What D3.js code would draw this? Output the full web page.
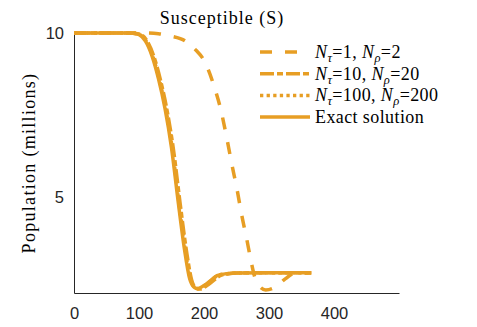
<!DOCTYPE html>
<html>
<head>
<meta charset="utf-8">
<script src="https://cdn.jsdelivr.net/npm/d3@7"></script>
<style>
  body { margin: 0; background: #fff; }
  .serif { font-family: "Liberation Serif", serif; fill: #000; }
  .tick text { font-family: "Liberation Sans", Arial, sans-serif; fill: #262626; }
</style>
</head>
<body>
<div id="chart"></div>
<script>
    'use strict'

    // data (days, susceptible population in millions)
    const exactDays = [0, 80, 90, 100, 110, 120, 130, 140, 150, 160, 170, 178, 185, 190, 200, 210, 220, 235, 250, 300, 365];
    const exactS    = [10, 10, 9.99, 9.95, 9.75, 9.3, 8.6, 7.7, 6.5, 4.9, 3.4, 2.5, 2.24, 2.2, 2.3, 2.45, 2.6, 2.66, 2.68, 2.69, 2.69];

    const n100Days = [0, 81, 91, 101, 111, 121, 131, 141, 151, 161, 171, 179, 186, 191, 201, 211, 221, 236, 251, 300, 365];
    const n100S    = [10, 10, 9.99, 9.95, 9.75, 9.3, 8.6, 7.7, 6.5, 4.9, 3.4, 2.5, 2.24, 2.2, 2.3, 2.45, 2.6, 2.66, 2.68, 2.69, 2.69];

    const n10Days = [0, 83, 93, 103, 113, 123, 133, 143, 153, 163, 173, 181, 188, 194, 204, 214, 224, 238, 252, 300, 365];
    const n10S    = [10, 10, 9.99, 9.95, 9.74, 9.28, 8.57, 7.66, 6.45, 4.85, 3.36, 2.47, 2.22, 2.19, 2.29, 2.44, 2.59, 2.66, 2.68, 2.69, 2.69];

    const n1Days = [0, 110, 130, 148, 171, 186, 202, 215, 226, 235, 243, 251, 258, 266, 272, 278, 286, 295, 308, 325, 340, 365];
    const n1S    = [10, 10, 9.98, 9.91, 9.76, 9.51, 9.09, 8.41, 7.65, 6.8, 5.98, 5.21, 4.45, 3.69, 3.08, 2.56, 2.26, 2.16, 2.23, 2.5, 2.68, 2.68];

    const xTicks = [0, 100, 200, 300, 400];
    const yTicks = [5, 10];

    const legendLabels = [
        { tau: '1', rho: '2' },
        { tau: '10', rho: '20' },
        { tau: '100', rho: '200' },
        { text: 'Exact solution' }
    ];
    const dashes = ['12,13', '14,3,6,3', '3.3,3.3', null];

    const colour = '#E79E24';
    const width = 477, height = 327;

    const svg = d3.select('#chart')
        .append('svg')
        .attr('width', width)
        .attr('height', height);

    const x = d3.scaleLinear().domain([0, 500]).range([74, 399]);
    const y = d3.scaleLinear().domain([2.07, 10]).range([293, 33]);

    // axes
    const xAxis = svg.append('g')
        .attr('transform', `translate(0,${y.range()[0]})`)
        .call(d3.axisBottom(x).tickValues(xTicks).tickSize(0).tickPadding(14).tickFormat(d3.format('d')));
    const yAxis = svg.append('g')
        .attr('transform', `translate(${x.range()[0]},0)`)
        .call(d3.axisLeft(y).tickValues(yTicks).tickSize(0).tickPadding(10).tickFormat(d3.format('d')));

    [xAxis, yAxis].forEach(a => {
        a.select('.domain').attr('stroke', '#262626').attr('stroke-width', 1);
        a.selectAll('.tick text').style('font-size', '16.5px');
    });

    // series
    const series = [
        { days: n1Days, values: n1S },
        { days: n10Days, values: n10S },
        { days: n100Days, values: n100S },
        { days: exactDays, values: exactS }
    ];

    const line = d3.line()
        .x(d => x(d[0]))
        .y(d => y(d[1]))
        .curve(d3.curveMonotoneX);

    svg.selectAll('.series')
        .data(series)
        .enter().append('path')
        .attr('class', 'series')
        .attr('d', s => line(s.days.map((d, i) => [d, s.values[i]])))
        .attr('fill', 'none')
        .attr('stroke', colour)
        .attr('stroke-width', 3.5)
        .attr('stroke-dasharray', (s, i) => dashes[i]);

    // title and y label
    svg.append('text')
        .attr('class', 'serif')
        .attr('x', 222)
        .attr('y', 24)
        .attr('text-anchor', 'middle')
        .style('font-size', '18px')
        .style('letter-spacing', '1px')
        .text('Susceptible (S)');

    svg.append('text')
        .attr('class', 'serif')
        .attr('transform', 'translate(35,163) rotate(-90)')
        .attr('text-anchor', 'middle')
        .style('font-size', '18px')
        .style('letter-spacing', '1.3px')
        .text('Population (millions)');

    // legend
    const legend = svg.append('g').attr('transform', 'translate(260,52)');
    const rowH = 21.7;

    legendLabels.forEach((lab, i) => {
        const g = legend.append('g').attr('transform', `translate(0,${i * rowH})`);
        g.append('line')
            .attr('x1', 0).attr('x2', 50)
            .attr('y1', 0).attr('y2', 0)
            .attr('stroke', colour)
            .attr('stroke-width', 3.5)
            .attr('stroke-dasharray', dashes[i]);

        const t = g.append('text')
            .attr('class', 'serif')
            .attr('x', 55)
            .attr('y', 6)
            .style('font-size', '18px')
            .style('letter-spacing', '0.4px');

        if (lab.text) {
            t.text(lab.text);
            return;
        }
        t.append('tspan').style('font-style', 'italic').text('N');
        t.append('tspan').attr('dy', 4).style('font-style', 'italic').style('font-size', '12.5px').text('τ');
        t.append('tspan').attr('dy', -4).text(`=${lab.tau}, `);
        t.append('tspan').style('font-style', 'italic').text('N');
        t.append('tspan').attr('dy', 4).style('font-style', 'italic').style('font-size', '12.5px').text('ρ');
        t.append('tspan').attr('dy', -4).text(`=${lab.rho}`);
    });
</script>
</body>
</html>
